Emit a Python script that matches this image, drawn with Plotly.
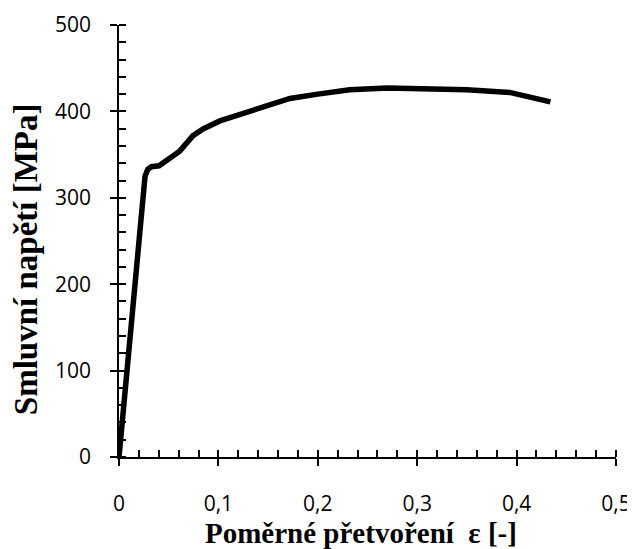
import plotly.graph_objects as go

# strain [-] and engineering stress [MPa]
strain = [0, 0.0139, 0.0226, 0.0245, 0.0262, 0.029, 0.0326, 0.0403, 0.05, 0.061,
          0.0745, 0.085, 0.1015, 0.115, 0.138, 0.155, 0.172, 0.2, 0.232, 0.27,
          0.3, 0.35, 0.393, 0.434]
stress = [0, 182, 290, 312, 325, 333, 336, 337, 345, 354,
          372, 380, 389, 394, 404, 410, 415, 420, 425, 427,
          426.5, 425, 422, 411]

x_ticks = [0, 0.1, 0.2, 0.3, 0.4, 0.5]
y_ticks = [0, 100, 200, 300, 400, 500]

tick_font = dict(family="Open Sans", size=21, color="black")

fig = go.Figure()
fig.add_trace(go.Scatter(x=strain, y=stress, mode="lines",
                         line=dict(color="black", width=5.5), showlegend=False))
# dummy trace on overlay axes so the inner half of the major ticks is drawn
fig.add_trace(go.Scatter(x=[None], y=[None], xaxis="x2", yaxis="y2", showlegend=False))

tick_style = dict(showgrid=False, zeroline=False, tickcolor="black", tickwidth=1.5,
                  ticklen=7, automargin=False)

# page body has an 8px margin, so the figure is 8px smaller than the window
fig.update_layout(
    width=627, height=541,
    margin=dict(l=111, r=19, t=17, b=92, autoexpand=False),
    plot_bgcolor="white", paper_bgcolor="white",
    separators=", ",
    xaxis=dict(range=[0, 0.5], tickvals=x_ticks, ticks="outside", showline=True,
               linecolor="black", linewidth=1.5,
               tickfont=tick_font, ticklabelstandoff=20,
               minor=dict(ticks="inside", dtick=0.02, ticklen=7, tickwidth=1.5, tickcolor="black"),
               **tick_style),
    yaxis=dict(range=[0, 500], tickvals=y_ticks, ticks="outside", showline=True,
               linecolor="black", linewidth=1.5,
               tickfont=tick_font, ticklabelstandoff=15,
               minor=dict(ticks="inside", dtick=20, ticklen=7, tickwidth=1.5, tickcolor="black"),
               **tick_style),
    xaxis2=dict(range=[0, 0.5], tickvals=x_ticks, ticks="inside", showticklabels=False,
                overlaying="x", showline=False, **tick_style),
    yaxis2=dict(range=[0, 500], tickvals=y_ticks, ticks="inside", showticklabels=False,
                overlaying="y", showline=False, **tick_style),
    annotations=[
        dict(text="<b>Poměrné přetvoření\u00a0 ε [-]</b>", xref="paper", yref="paper",
             x=0.487, y=-0.177, xanchor="center", yanchor="middle",
             showarrow=False, font=dict(family="Liberation Serif", size=29, color="black")),
        dict(text="<b>Smluvní napětí [MPa]</b>", xref="paper", yref="paper",
             x=-0.187, y=0.458, xanchor="center", yanchor="middle", textangle=-90,
             showarrow=False, font=dict(family="Liberation Serif", size=33, color="black")),
    ],
)

fig.write_html("out.html")
